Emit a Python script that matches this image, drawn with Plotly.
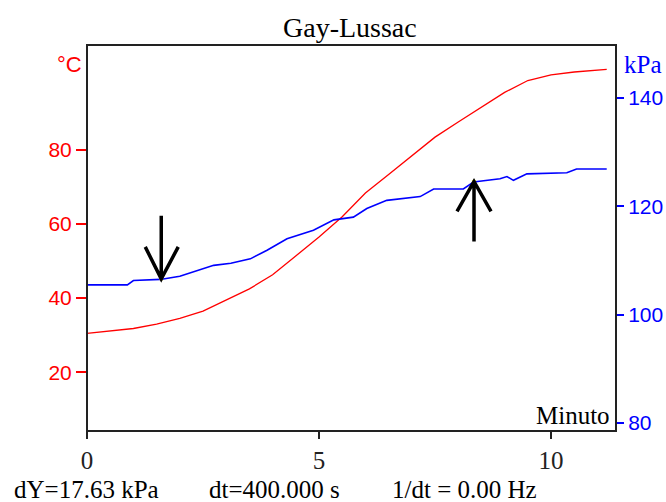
import plotly.graph_objects as go

# ---- data ----
temp_t = [0, 0.5, 1.0, 1.5, 2.0, 2.5, 3.0, 3.5, 4.0, 4.5, 5.0, 5.5, 6.0, 6.5,
          7.0, 7.5, 8.0, 8.5, 9.0, 9.5, 10.0, 10.5, 11.0, 11.2]
temp_c = [30.5, 31.1, 31.8, 33.0, 34.5, 36.5, 39.4, 42.5, 46.3, 51.3, 56.5, 62.0,
          68.4, 73.4, 78.5, 83.5, 87.6, 91.7, 95.6, 98.8, 100.3, 101.1, 101.7, 101.8]

press_t = [0, 0.87, 1.0, 1.58, 2.0, 2.3, 2.73, 3.1, 3.52, 3.88, 4.31, 4.88, 5.32,
           5.74, 6.03, 6.46, 7.18, 7.47, 8.11, 8.33, 8.9, 9.05, 9.19, 9.48, 10.34,
           10.55, 11.2]
press_kpa = [105.5, 105.5, 106.3, 106.5, 107.1, 107.9, 109.1, 109.5, 110.3, 111.9,
             114.0, 115.6, 117.5, 118.0, 119.6, 121.1, 121.8, 123.2, 123.2, 124.5,
             125.1, 125.5, 124.8, 126.0, 126.2, 126.9, 126.9]

cursor_t = [1.6, 8.34]
cursor_kpa = [106.6, 124.6]

x_ticks = [0, 5, 10]
temp_ticks = [20, 40, 60, 80]
press_ticks = [80, 100, 120, 140]

title = "Gay-Lussac"
status_texts = ["dY=17.63 kPa", "dt=400.000 s", "1/dt = 0.00 Hz"]

RED = "#ff0000"
BLUE = "#0000ff"
SERIF = "Liberation Serif, Times New Roman, serif"
SANS = "Liberation Sans, Arial, sans-serif"

W, H = 666, 502
L, R, T, B = 87, 50, 45, 71
PW, PH = W - L - R, H - T - B


def px_x(xp):
    return (xp - L) / PW


def px_y(yp):
    return 1 - (yp - T) / PH


fig = go.Figure()
fig.add_trace(go.Scatter(x=temp_t, y=temp_c, mode="lines",
                         line=dict(color=RED, width=1.3), yaxis="y", showlegend=False))
fig.add_trace(go.Scatter(x=press_t, y=press_kpa, mode="lines",
                         line=dict(color=BLUE, width=1.6), yaxis="y2", showlegend=False))
fig.add_trace(go.Scatter(x=cursor_t, y=cursor_kpa, mode="markers",
                         marker=dict(color="#e8e000", size=4), yaxis="y2", showlegend=False))

shapes = [dict(type="rect", xref="paper", yref="paper", x0=0, x1=1, y0=0, y1=1,
               line=dict(color="#222222", width=2), layer="above")]
# down arrow at first cursor
shapes.append(dict(type="path", xref="x", yref="y2", xsizemode="pixel", ysizemode="pixel",
                   xanchor=cursor_t[0], yanchor=cursor_kpa[0],
                   path="M0,0 L0,63 M-16,32 L0,0 L17,32",
                   line=dict(color="black", width=3.5)))
# up arrow at second cursor
shapes.append(dict(type="path", xref="x", yref="y2", xsizemode="pixel", ysizemode="pixel",
                   xanchor=cursor_t[1], yanchor=cursor_kpa[1],
                   path="M0,0 L0,-60 M-17,-30 L0,0 L17,-30",
                   line=dict(color="black", width=3.5)))

annotations = [
    dict(text=title, xref="paper", yref="paper", x=px_x(350), y=px_y(27),
         showarrow=False, font=dict(family=SERIF, size=28, color="black"),
         xanchor="center", yanchor="middle"),
    dict(text="°C", xref="paper", yref="paper", x=px_x(84), y=px_y(65),
         showarrow=False, font=dict(family=SANS, size=22, color=RED),
         xanchor="right", yanchor="middle"),
    dict(text="kPa", xref="paper", yref="paper", x=px_x(622), y=px_y(65),
         showarrow=False, font=dict(family=SERIF, size=25, color=BLUE),
         xanchor="left", yanchor="middle"),
    dict(text="Minuto", xref="paper", yref="paper", x=px_x(612), y=px_y(415),
         showarrow=False, font=dict(family=SERIF, size=25, color="black"),
         xanchor="right", yanchor="middle"),
]
for txt, xp in zip(status_texts, [12, 207, 390]):
    annotations.append(dict(text=txt, xref="paper", yref="paper", x=px_x(xp), y=px_y(489),
                            showarrow=False, font=dict(family=SERIF, size=25, color="black"),
                            xanchor="left", yanchor="middle"))

fig.update_layout(
    width=W, height=H,
    margin=dict(l=L, r=R, t=T, b=B, pad=0, autoexpand=False),
    paper_bgcolor="white", plot_bgcolor="white",
    xaxis=dict(range=[0, 11.4], tickvals=x_ticks, ticks="outside", ticklen=7,
               tickcolor="#222222", tickwidth=2, showgrid=False, zeroline=False,
               showline=False, automargin=False,
               tickfont=dict(family=SERIF, size=25, color="#222222")),
    yaxis=dict(range=[4.1, 108.4], tickvals=temp_ticks, ticks="outside", ticklen=10,
               tickcolor=RED, tickwidth=1.5, showgrid=False, zeroline=False,
               showline=False, automargin=False, ticklabelstandoff=0,
               tickfont=dict(family=SANS, size=21, color=RED)),
    yaxis2=dict(range=[78.5, 149.8], tickvals=press_ticks, ticks="outside", ticklen=7,
                tickcolor=BLUE, tickwidth=1.5, showgrid=False, zeroline=False,
                showline=False, overlaying="y", side="right", automargin=False,
                ticklabelstandoff=0,
                tickfont=dict(family=SANS, size=21, color=BLUE)),
    shapes=shapes,
    annotations=annotations,
)

fig.write_html("out.html")
